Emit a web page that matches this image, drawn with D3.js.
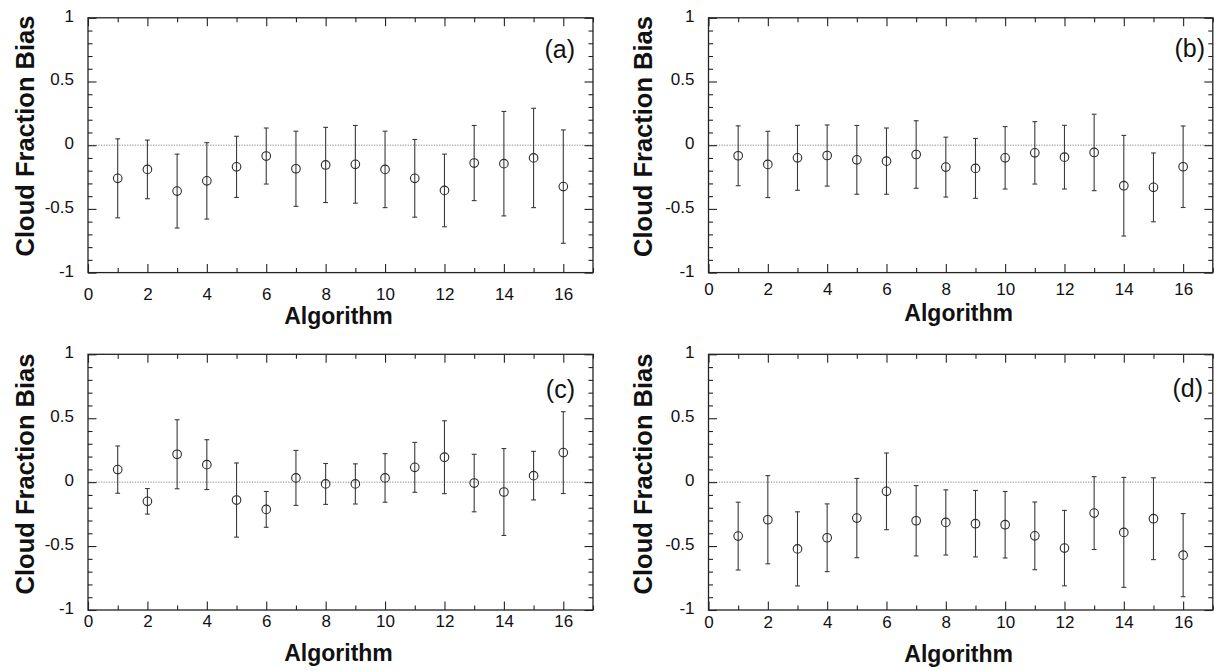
<!DOCTYPE html>
<html>
<head>
<meta charset="utf-8">
<script src="https://cdn.jsdelivr.net/npm/d3@7"></script>
<style>
  html, body { margin: 0; padding: 0; background: #fff; }
  svg { display: block; }
  text { font-family: "Liberation Sans", Arial, Helvetica, sans-serif; fill: #111; }
</style>
</head>
<body>
<svg id="chart" width="1214" height="671"></svg>
<script>
// Algorithm index on the x axis
const algorithms = [1, 2, 3, 4, 5, 6, 7, 8, 9, 10, 11, 12, 13, 14, 15, 16];

// Axis ticks and their labels
const xMajorTicks = [0, 2, 4, 6, 8, 10, 12, 14, 16];
const xMinorTicks = [1, 3, 5, 7, 9, 11, 13, 15, 17];
const yMajorTicks = [-1, -0.5, 0, 0.5, 1];
const yMajorLabels = ["-1", "-0.5", "0", "0.5", "1"];
const yMinorTicks = [-0.9, -0.8, -0.7, -0.6, -0.4, -0.3, -0.2, -0.1, 0.1, 0.2, 0.3, 0.4, 0.6, 0.7, 0.8, 0.9];

// Mean cloud fraction bias and error-bar half width per algorithm
const biasA = [-0.26, -0.19, -0.36, -0.28, -0.17, -0.085, -0.185, -0.155, -0.15, -0.19, -0.26, -0.355, -0.14, -0.145, -0.10, -0.325];
const errA  = [0.31, 0.23, 0.29, 0.30, 0.24, 0.22, 0.295, 0.295, 0.305, 0.30, 0.305, 0.285, 0.295, 0.41, 0.39, 0.445];

const biasB = [-0.083, -0.151, -0.099, -0.081, -0.115, -0.125, -0.073, -0.172, -0.182, -0.099, -0.06, -0.094, -0.057, -0.318, -0.331, -0.169];
const errB  = [0.235, 0.26, 0.255, 0.24, 0.27, 0.26, 0.265, 0.235, 0.235, 0.245, 0.245, 0.25, 0.30, 0.395, 0.27, 0.32];

const biasC = [0.098, -0.150, 0.218, 0.137, -0.140, -0.213, 0.033, -0.014, -0.014, 0.033, 0.116, 0.195, -0.007, -0.077, 0.051, 0.231];
const errC  = [0.185, 0.10, 0.27, 0.195, 0.29, 0.14, 0.215, 0.16, 0.157, 0.19, 0.195, 0.285, 0.225, 0.34, 0.19, 0.32];

const biasD = [-0.422, -0.294, -0.522, -0.435, -0.281, -0.072, -0.302, -0.315, -0.325, -0.333, -0.42, -0.516, -0.242, -0.393, -0.286, -0.571];
const errD  = [0.265, 0.345, 0.29, 0.265, 0.31, 0.30, 0.275, 0.255, 0.26, 0.26, 0.265, 0.295, 0.285, 0.43, 0.32, 0.325];

const panelTags = ["(a)", "(b)", "(c)", "(d)"];
const yTitle = "Cloud Fraction Bias";
const xTitle = "Algorithm";

// Panel geometry (pixels)
const layout = [
  { left: 88,    right: 593,    top: 17.8,  bottom: 272.6, xPad: 14.9, xTitleY: 324, yTitleX: 25,  yTitleY: 136,   tagX: 575,  tagY: 58 },
  { left: 708.5, right: 1212.8, top: 17.8,  bottom: 272.6, xPad: 10.4, xTitleY: 321, yTitleX: 643, yTitleY: 136.5, tagX: 1205, tagY: 57 },
  { left: 88,    right: 593,    top: 354.3, bottom: 610,   xPad: 4.9,  xTitleY: 661, yTitleX: 25,  yTitleY: 474,   tagX: 575,  tagY: 398 },
  { left: 708.5, right: 1212.8, top: 354.3, bottom: 610,   xPad: 5.9,  xTitleY: 662, yTitleX: 643, yTitleY: 474,   tagX: 1203, tagY: 397 }
];

const series = [
  { bias: biasA, err: errA },
  { bias: biasB, err: errB },
  { bias: biasC, err: errC },
  { bias: biasD, err: errD }
];

const svg = d3.select("#chart");
const INK = "#222";
const BAR = "#3a3a3a";
const MAJOR = 8.5, MINOR = 4.5;

function styleAxis(g, fontSize) {
  g.select(".domain").remove();
  g.selectAll(".tick line").attr("stroke", INK).attr("stroke-width", 1.1);
  g.selectAll(".tick text")
    .attr("fill", "#111")
    .style("font-family", "'Liberation Sans', Arial, Helvetica, sans-serif")
    .style("font-size", fontSize + "px");
}

layout.forEach((L, i) => {
  const s = series[i];
  const x = d3.scaleLinear().domain([0, 17]).range([L.left, L.right]);
  const y = d3.scaleLinear().domain([-1, 1]).range([L.bottom, L.top]);
  const g = svg.append("g");

  // dotted zero reference line
  g.append("line")
    .attr("x1", x(0)).attr("x2", x(17))
    .attr("y1", y(0)).attr("y2", y(0))
    .attr("stroke", "#8c8c8c").attr("stroke-width", 1)
    .attr("stroke-dasharray", "1.3,1.3");

  // bottom axis: labelled majors + minors, ticks pointing inward
  g.append("g").attr("transform", `translate(0,${L.bottom})`)
    .call(d3.axisBottom(x).tickValues(xMajorTicks).tickSizeInner(-MAJOR).tickSizeOuter(0).tickPadding(L.xPad).tickFormat(d3.format("d")))
    .call(a => styleAxis(a, 17));
  g.append("g").attr("transform", `translate(0,${L.bottom})`)
    .call(d3.axisBottom(x).tickValues(xMinorTicks).tickSizeInner(-MINOR).tickSizeOuter(0).tickFormat(""))
    .call(a => styleAxis(a, 17));

  // top axis: ticks only
  g.append("g").attr("transform", `translate(0,${L.top})`)
    .call(d3.axisTop(x).tickValues(xMajorTicks).tickSizeInner(-MAJOR).tickSizeOuter(0).tickFormat(""))
    .call(a => styleAxis(a, 17));
  g.append("g").attr("transform", `translate(0,${L.top})`)
    .call(d3.axisTop(x).tickValues(xMinorTicks).tickSizeInner(-MINOR).tickSizeOuter(0).tickFormat(""))
    .call(a => styleAxis(a, 17));

  // left axis with labels
  g.append("g").attr("transform", `translate(${L.left},0)`)
    .call(d3.axisLeft(y).tickValues(yMajorTicks).tickSizeInner(-MAJOR).tickSizeOuter(0).tickPadding(14)
      .tickFormat((d, k) => yMajorLabels[k]))
    .call(a => styleAxis(a, 17))
    .call(a => a.selectAll(".tick text").attr("dy", "0.2em"));
  g.append("g").attr("transform", `translate(${L.left},0)`)
    .call(d3.axisLeft(y).tickValues(yMinorTicks).tickSizeInner(-MINOR).tickSizeOuter(0).tickFormat(""))
    .call(a => styleAxis(a, 17));

  // right axis: ticks only
  g.append("g").attr("transform", `translate(${L.right},0)`)
    .call(d3.axisRight(y).tickValues(yMajorTicks).tickSizeInner(-MAJOR).tickSizeOuter(0).tickFormat(""))
    .call(a => styleAxis(a, 17));
  g.append("g").attr("transform", `translate(${L.right},0)`)
    .call(d3.axisRight(y).tickValues(yMinorTicks).tickSizeInner(-MINOR).tickSizeOuter(0).tickFormat(""))
    .call(a => styleAxis(a, 17));

  // plot frame
  g.append("rect")
    .attr("x", x(0)).attr("y", y(1))
    .attr("width", x(17) - x(0)).attr("height", y(-1) - y(1))
    .attr("fill", "none").attr("stroke", INK).attr("stroke-width", 1.3);

  // error bars with caps
  const pts = algorithms.map((a, k) => ({ a, m: s.bias[k], e: s.err[k] }));
  const bars = g.append("g").selectAll("g").data(pts).join("g")
    .attr("stroke", BAR).attr("stroke-width", 1.1);
  bars.append("line")
    .attr("x1", d => x(d.a)).attr("x2", d => x(d.a))
    .attr("y1", d => y(d.m + d.e)).attr("y2", d => y(d.m - d.e));
  bars.append("line")
    .attr("x1", d => x(d.a) - 2.4).attr("x2", d => x(d.a) + 2.4)
    .attr("y1", d => y(d.m + d.e)).attr("y2", d => y(d.m + d.e));
  bars.append("line")
    .attr("x1", d => x(d.a) - 2.4).attr("x2", d => x(d.a) + 2.4)
    .attr("y1", d => y(d.m - d.e)).attr("y2", d => y(d.m - d.e));

  // open circle markers at the mean
  g.append("g").selectAll("circle").data(pts).join("circle")
    .attr("cx", d => x(d.a)).attr("cy", d => y(d.m)).attr("r", 4.3)
    .attr("fill", "none").attr("stroke", "#2a2a2a").attr("stroke-width", 1.1);

  // panel tag
  g.append("text")
    .attr("x", L.tagX).attr("y", L.tagY)
    .attr("text-anchor", "end")
    .style("font-size", "25px")
    .text(panelTags[i]);

  // axis titles
  g.append("text")
    .attr("x", (L.left + L.right) / 2 - 2).attr("y", L.xTitleY)
    .attr("text-anchor", "middle")
    .style("font-size", "23px").style("font-weight", "bold")
    .text(xTitle);
  g.append("text")
    .attr("transform", `translate(${L.yTitleX},${L.yTitleY}) rotate(-90)`)
    .attr("text-anchor", "middle")
    .attr("dy", "0.36em")
    .style("font-size", "25.5px").style("font-weight", "bold")
    .text(yTitle);
});
</script>
</body>
</html>
